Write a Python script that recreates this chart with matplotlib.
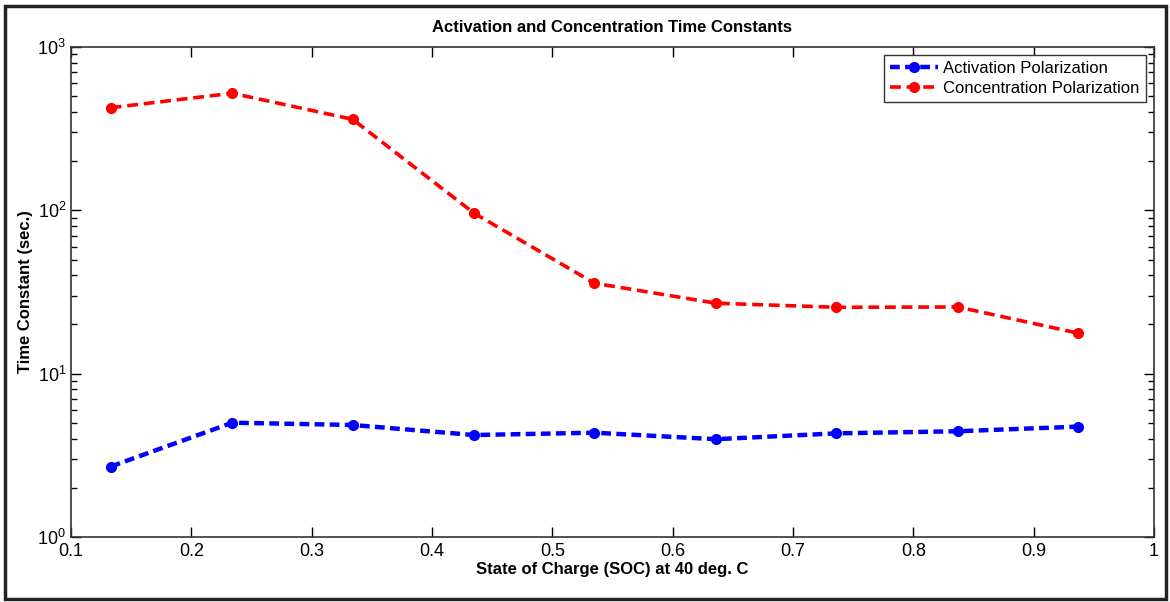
import numpy as np
import matplotlib
matplotlib.use("Agg")
from matplotlib import pyplot as plt
from matplotlib.patches import Rectangle
from matplotlib.ticker import LogLocator, NullFormatter

plt.rcParams['font.family'] = ['Liberation Sans', 'DejaVu Sans']
plt.rcParams['mathtext.fontset'] = 'custom'
plt.rcParams['mathtext.rm'] = 'Liberation Sans'

# data
soc = [0.133, 0.234, 0.334, 0.435, 0.535, 0.636, 0.736, 0.837, 0.937]
tau_act = [2.70, 5.01, 4.85, 4.21, 4.35, 3.97, 4.31, 4.44, 4.74]
tau_conc = [425, 521, 361, 96, 35.8, 27.0, 25.5, 25.6, 17.7]
xticks = [0.1, 0.2, 0.3, 0.4, 0.5, 0.6, 0.7, 0.8, 0.9, 1]
xticklabels = ['0.1', '0.2', '0.3', '0.4', '0.5', '0.6', '0.7', '0.8', '0.9', '1']

fig = plt.figure(figsize=(11.7, 6.02), dpi=100)
ax = fig.add_axes([0.0607, 0.108, 0.9256, 0.8139])

ax.plot(soc, tau_act, '--o', color='#0000ff', lw=3.2, ms=7, dashes=(2.2, 1.2),
        label='Activation Polarization')
ax.plot(soc, tau_conc, '--o', color='#ff0000', lw=2.6, ms=7, dashes=(3, 1.6),
        label='Concentration Polarization')

ax.set_yscale('log')
ax.set_xlim(0.1, 1)
ax.set_ylim(1, 1000)
ax.set_xticks(xticks)
ax.set_xticklabels(xticklabels)
ax.yaxis.set_minor_locator(LogLocator(base=10, subs=np.arange(2, 10)))
ax.yaxis.set_minor_formatter(NullFormatter())
ax.tick_params(which='both', direction='in', top=True, right=True, labelsize=13, width=1)
ax.tick_params(axis='x', pad=4)
ax.tick_params(which='major', length=7)
ax.tick_params(which='minor', length=4)
for s in ax.spines.values():
    s.set_linewidth(1.2)
    s.set_color('#333333')

ax.set_title('Activation and Concentration Time Constants', fontsize=12,
             fontweight='bold', pad=11)
ax.set_xlabel('State of Charge (SOC) at 40 deg. C', fontsize=12, fontweight='bold', labelpad=2)
ax.set_ylabel('Time Constant (sec.)', fontsize=12, fontweight='bold', labelpad=3)

leg = ax.legend(loc='upper right', fontsize=12, handlelength=2.9, borderaxespad=0.5,
                fancybox=False, framealpha=1, edgecolor='#333333', borderpad=0.35,
                labelspacing=0.3, handletextpad=0.3)
leg.get_frame().set_linewidth(1)

fig.patches.append(Rectangle((5 / 1170, 3 / 602), 1161 / 1170, 593 / 602,
                             transform=fig.transFigure, fill=False,
                             edgecolor='#222222', linewidth=2.5))

fig.savefig('out.png', dpi=100)
